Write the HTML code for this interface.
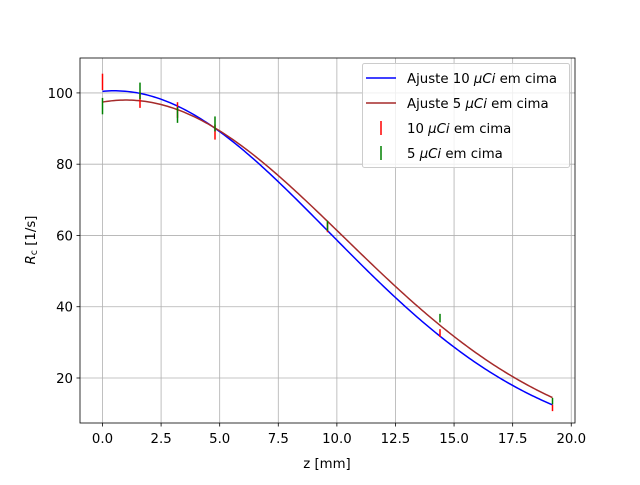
<!DOCTYPE html>
<html><head><meta charset="utf-8"><style>
body{margin:0;background:#fff}
svg text{font-family:"DejaVu Sans","Liberation Sans",sans-serif;font-size:13.3px;fill:#000}
</style></head><body>
<svg id="chart" width="640" height="480" xmlns="http://www.w3.org/2000/svg">
<rect width="640" height="480" fill="#fff"/>
<g id="grid"></g><g id="series"></g><g id="axes"></g>
<rect x="80" y="58" width="495" height="365" fill="none" stroke="#000" stroke-width="0.8"/>
<text x="327" y="468" text-anchor="middle">z [mm]</text>
<text transform="translate(35,240) rotate(-90)" text-anchor="middle"><tspan font-style="italic">R</tspan><tspan font-size="9.5" dy="2">c</tspan><tspan dy="-2"> [1/s]</tspan></text>
<g>
<rect x="362.5" y="63.5" width="207" height="104" rx="2" fill="#fff" fill-opacity="0.8" stroke="#ccc"/>
<line x1="366" y1="78" x2="396" y2="78" stroke="#0000ff" stroke-width="1.5"/>
<text x="407" y="83">Ajuste 10 <tspan font-style="italic">μCi</tspan> em cima</text>
<line x1="366" y1="103" x2="396" y2="103" stroke="#a52a2a" stroke-width="1.5"/>
<text x="407" y="108">Ajuste 5 <tspan font-style="italic">μCi</tspan> em cima</text>
<line x1="381" y1="121" x2="381" y2="135" stroke="#ff0000" stroke-width="1.5"/>
<text x="407" y="133">10 <tspan font-style="italic">μCi</tspan> em cima</text>
<line x1="381" y1="146" x2="381" y2="160" stroke="#008000" stroke-width="1.5"/>
<text x="407" y="158">5 <tspan font-style="italic">μCi</tspan> em cima</text>
</g>
</svg>
<script>
const xTicks=[0,2.5,5,7.5,10,12.5,15,17.5,20];
const xTickLabels=["0.0","2.5","5.0","7.5","10.0","12.5","15.0","17.5","20.0"];
const yTicks=[20,40,60,80,100];
const zPos=[0,1.6,3.2,4.8,9.6,14.4,19.2];
const red=[103.1,98.0,95.2,89.0,62.3,32.6,11.6];
const redErr=[2.3,2.2,2.2,2.1,1.4,1.1,0.9];
const green=[96.3,100.6,93.8,91.3,62.7,36.8,13.5];
const greenErr=[2.3,2.3,2.2,2.1,1.4,1.2,0.9];
const fitBlue=[100.6,0.5,9.15];
const fitBrown=[98.0,1.0,9.31];
const X0=-0.96,X1=20.16,Y0=7.37,Y1=109.8;
const sx=v=>80+(v-X0)/(X1-X0)*495;
const sy=v=>423-(v-Y0)/(Y1-Y0)*365;
const NS="http://www.w3.org/2000/svg";
function mk(t,a,p){const e=document.createElementNS(NS,t);for(const k in a)e.setAttribute(k,a[k]);p.appendChild(e);return e;}
const grid=document.getElementById('grid'),axes=document.getElementById('axes'),ser=document.getElementById('series');
xTicks.forEach((v,i)=>{const x=sx(v);
const g=mk('line',{x1:x,x2:x,y1:58,y2:423,stroke:'#b0b0b0','stroke-width':0.8},grid);


mk('line',{x1:x,x2:x,y1:423,y2:426.5,stroke:'#000','stroke-width':0.8},axes);
const t=mk('text',{x:x,y:443,'text-anchor':'middle'},axes);t.textContent=xTickLabels[i];

});
yTicks.forEach(v=>{const y=sy(v);
const g=mk('line',{x1:80,x2:575,y1:y,y2:y,stroke:'#b0b0b0','stroke-width':0.8},grid);


mk('line',{x1:76.5,x2:80,y1:y,y2:y,stroke:'#000','stroke-width':0.8},axes);
const t=mk('text',{x:73,y:y+5,'text-anchor':'end'},axes);t.textContent=v;

});
function curve(p,color,name){let d='';for(let i=0;i<=200;i++){const z=i/200*19.2;const v=p[0]*Math.exp(-Math.pow(z-p[1],2)/(2*p[2]*p[2]));d+=(i?'L':'M')+sx(z).toFixed(2)+','+sy(v).toFixed(2);}
const e=mk('path',{d:d,fill:'none',stroke:color,'stroke-width':1.5},ser);

}
function bars(vals,errs,color,name){vals.forEach((v,i)=>{const x=sx(zPos[i]);
const e=mk('line',{x1:x,x2:x,y1:sy(v+errs[i]),y2:sy(v-errs[i]),stroke:color,'stroke-width':1.5},ser);

});}
curve(fitBlue,'#0000ff','fit-10-line');
curve(fitBrown,'#a52a2a','fit-5-line');
bars(red,redErr,'#ff0000','errorbar-10');
bars(green,greenErr,'#008000','errorbar-5');
</script>
</body></html>
